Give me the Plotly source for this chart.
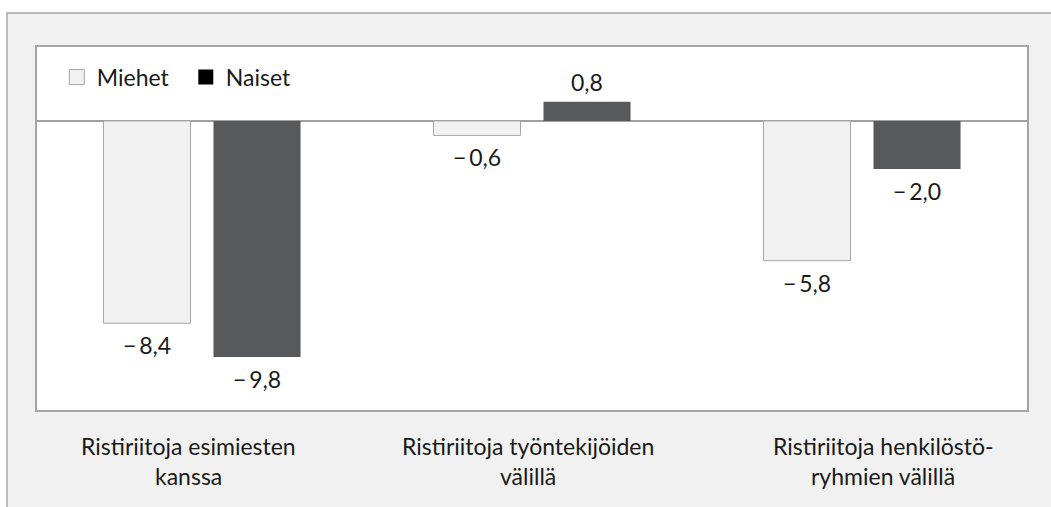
import plotly.graph_objects as go

categories = ["Ristiriitoja esimiesten kanssa",
              "Ristiriitoja työntekijöiden välillä",
              "Ristiriitoja henkilöstöryhmien välillä"]
category_lines = [["Ristiriitoja esimiesten", "kanssa"],
                  ["Ristiriitoja työntekijöiden", "välillä"],
                  ["Ristiriitoja henkilöstö-", "ryhmien välillä"]]
series_names = ["Miehet", "Naiset"]
miehet = [-8.4, -0.6, -5.8]
naiset = [-9.8, 0.8, -2.0]

FONT = "Lato"
FS = 23
TXT = "#1a1a1a"
GRAY_FILL = "#f0f1f0"
BORDER = "#a6a6a6"
DARK = "#58595b"

def fmt(v):
    s = f"{abs(v):.1f}".replace(".", ",")
    return ("\u2212\u2009" + s) if v < 0 else s

fig = go.Figure()
fig.add_trace(go.Bar(x=categories, y=miehet, name=series_names[0],
                     marker=dict(color=GRAY_FILL, line=dict(color=BORDER, width=1)),
                     showlegend=False))
fig.add_trace(go.Bar(x=categories, y=naiset, name=series_names[1],
                     marker=dict(color=DARK, line=dict(color=DARK, width=0)),
                     showlegend=False))
# legend entries
fig.add_trace(go.Scatter(x=[None], y=[None], mode="markers", name=series_names[0],
                         marker=dict(symbol="square", size=15, color=GRAY_FILL,
                                     line=dict(color=BORDER, width=1))))
fig.add_trace(go.Scatter(x=[None], y=[None], mode="markers", name=series_names[1],
                         marker=dict(symbol="square", size=15, color="#000000")))

annotations = []
for vals, xs in ((miehet, -55), (naiset, 55)):
    for c, v in zip(categories, vals):
        annotations.append(dict(x=c, y=v, xref="x", yref="y", text=fmt(v),
                                showarrow=False, xshift=xs,
                                yshift=(20 if v > 0 else -22), yanchor="middle",
                                font=dict(family=FONT, size=FS, color=TXT)))
label_shift = [-14, -4, 21]
for c, lines, sh in zip(categories, category_lines, label_shift):
    for i, ln in enumerate(lines):
        annotations.append(dict(x=c, y=[-0.0992, -0.1818][i], xref="x", yref="paper",
                                text=ln, showarrow=False, xshift=sh, yanchor="middle",
                                font=dict(family=FONT, size=FS, color=TXT)))

fig.update_layout(
    width=1051, height=507,
    margin=dict(l=37, r=24, t=47, b=97),
    paper_bgcolor="white", plot_bgcolor="white",
    barmode="group", bargap=0.333, bargroupgap=0.209,
    font=dict(family=FONT, size=FS, color=TXT),
    showlegend=True,
    legend=dict(orientation="h", x=0.02, xanchor="left", y=0.917, yanchor="middle",
                bgcolor="rgba(0,0,0,0)", font=dict(family=FONT, size=FS, color=TXT),
                entrywidth=84, entrywidthmode="pixels"),
    annotations=annotations,
    shapes=[dict(type="rect", xref="paper", yref="paper",
                 x0=-30/990, x1=1.2, y0=-0.4, y1=(410-13)/363,
                 fillcolor=GRAY_FILL, line=dict(color=BORDER, width=1.5), layer="below"),
            dict(type="rect", xref="paper", yref="paper",
                 x0=0, x1=1, y0=0, y1=1,
                 fillcolor="white", line=dict(width=0), layer="below")],
    xaxis=dict(showticklabels=False, showgrid=False, zeroline=False, ticks="",
               showline=True, mirror=True, linecolor=BORDER, linewidth=1.5,
               fixedrange=True),
    yaxis=dict(range=[-12, 3.07], showticklabels=False, showgrid=False, ticks="",
               zeroline=True, zerolinecolor="#a0a0a0", zerolinewidth=2,
               showline=True, mirror=True, linecolor=BORDER, linewidth=1.5,
               fixedrange=True),
)
fig.write_html("out.html", config={"displayModeBar": False},
               post_script="document.body.style.margin='0';document.body.style.padding='0';")
